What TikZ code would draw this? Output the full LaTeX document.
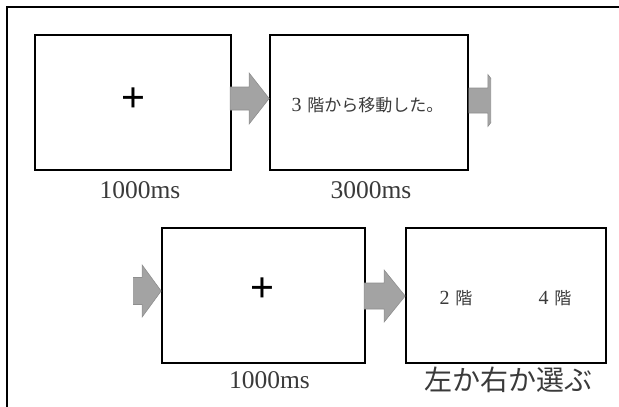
\documentclass[tikz,border=0pt]{standalone}
\usepackage{fontspec}
\usetikzlibrary{calc}
\setmainfont{Liberation Serif}
\newfontfamily\cjk{Noto Sans CJK JP}
\newfontfamily\plusfont{Liberation Sans}
\definecolor{arrowgray}{HTML}{A3A3A3}
\definecolor{arrowedge}{HTML}{8E8E8E}
\definecolor{txtgray}{HTML}{3A3A3A}
\newcommand\blockarr[5]{% tip, shaft length, head length, half shaft, half head
  \draw[blockarr] (#1) ++(-#2-#3,-#4) -- ++(#2,0) -- ++(0,-#5+#4) -- (#1)
    -- ++(-#3,#5) -- ++(0,-#5+#4) -- ++(-#2,0) -- cycle;}
\newcommand\fl[1]{{\fontsize{20}{20}\selectfont #1}\hspace{0.35em}}
\begin{document}
\begin{tikzpicture}[x=1pt,y=-1pt,
  screen/.style={draw=black,line width=1.7pt,inner sep=0pt,fill=white,minimum height=135pt},
  blockarr/.style={fill=arrowgray,draw=arrowedge,line width=0.6pt,line join=miter},
  lbl/.style={text=txtgray,font=\fontsize{25.5}{25.5}\selectfont,inner sep=0pt},
  jplbl/.style={text=txtgray,font=\cjk\fontsize{28}{28}\selectfont,inner sep=0pt},
  stim/.style={text=txtgray,font=\fontsize{17}{17}\selectfont,inner sep=0pt},
  fix/.style={font=\plusfont\fontsize{41}{41}\selectfont,inner sep=0pt}]
\useasboundingbox (0,0) rectangle (619,407);
% outer frame
\draw[line width=1.8pt] (7,407) -- (7,7) -- (619,7);
% screens
\node[screen,minimum width=196pt] (b1) at (133,102.5) {};
\node[screen,minimum width=198pt] (b2) at (369,102.5) {};
\node[screen,minimum width=203pt] (b3) at (263.5,295.5) {};
\node[screen,minimum width=200pt] (b4) at (506,295.5) {};
% contents
\node[fix] (p1) at (133,100) {+};
\node[stim] (s2) at (367.5,105) {\fl{3}{\cjk 階から移動した。}};
\node[fix] (p3) at (262.5,290) {+};
\node[stim] (s4a) at (456,298) {\fl{2}{\cjk 階}};
\node[stim] (s4b) at (555,298) {\fl{4}{\cjk 階}};
% labels
\node[lbl] (l1) at (140,190) {1000ms};
\node[lbl] (l2) at (371,190) {3000ms};
\node[lbl] (l3) at (269.5,380) {1000ms};
\node[jplbl] (l4) at (508,380) {左か右か選ぶ};
% block arrows
\coordinate (t1) at ($(b2.west)+(0,-4)$);
\coordinate (t3) at ($(b3.west)+(0,-4.5)$);
\coordinate (t4) at ($(b4.west)+(0,0.5)$);
\coordinate (t2) at ($(b2.east)+(39,-2)$);
\blockarr{t1}{19}{20}{11.5}{25.5}
\blockarr{t4}{20}{21}{13}{26}
\begin{scope}
  \clip (466,40) rectangle (491,160);
  \blockarr{t2}{19}{20}{12.5}{26}
\end{scope}
\begin{scope}
  \clip (133,250) rectangle (170,330);
  \blockarr{t3}{19}{19}{13.5}{26}
\end{scope}
\end{tikzpicture}
\end{document}
